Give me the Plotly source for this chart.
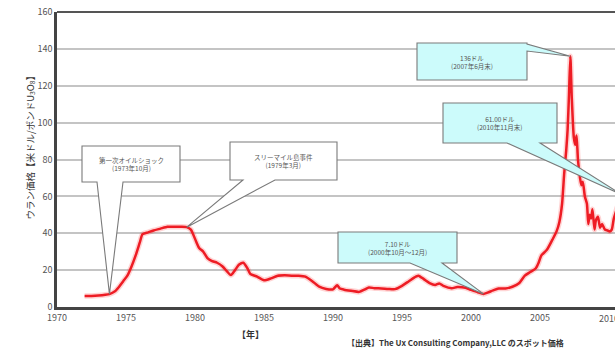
import plotly.graph_objects as go

# Uranium spot price (US$/lb U3O8), decimal year vs. price
years = [
    1972.0, 1972.5, 1973.0, 1973.5, 1973.8, 1974.2, 1974.5, 1974.8, 1975.1, 1975.4,
    1975.7, 1976.0, 1976.2, 1976.6, 1977.0, 1977.5, 1978.0, 1978.5, 1979.0, 1979.4,
    1979.7, 1980.0, 1980.3, 1980.6, 1980.9, 1981.2, 1981.6, 1982.0, 1982.3, 1982.6,
    1982.9, 1983.2, 1983.5, 1983.8, 1984.0, 1984.5, 1985.0, 1985.5, 1986.0, 1986.5,
    1987.0, 1987.5, 1988.0, 1988.5, 1989.0, 1989.5, 1990.0, 1990.3, 1990.5, 1990.8,
    1991.3, 1991.9, 1992.3, 1992.6, 1993.0, 1993.5, 1994.0, 1994.5, 1995.0, 1995.5,
    1996.0, 1996.2, 1996.6, 1997.0, 1997.4, 1997.7, 1998.0, 1998.6, 1999.0, 1999.6,
    2000.0, 2000.5, 2000.9, 2001.2, 2001.6, 2002.0, 2002.5, 2003.0, 2003.5, 2003.9,
    2004.3, 2004.7, 2004.9, 2005.1, 2005.5, 2005.9, 2006.2, 2006.4, 2006.6, 2006.75,
    2006.9, 2007.0, 2007.1, 2007.2, 2007.3, 2007.45, 2007.55, 2007.65, 2007.75, 2007.9,
    2008.0, 2008.1, 2008.25, 2008.4, 2008.5, 2008.6, 2008.7, 2008.8, 2008.95, 2009.05,
    2009.2, 2009.35, 2009.5, 2009.7, 2009.9, 2010.05, 2010.2, 2010.35, 2010.6, 2010.9,
]
prices = [
    6.0, 6.0, 6.2, 6.6, 7.0, 8.5, 11.0, 14.0, 17.0, 22.0,
    28.0, 35.0, 39.5, 40.5, 41.5, 42.5, 43.5, 43.5, 43.5, 43.3,
    42.0, 37.0, 32.0, 30.0, 26.5, 25.0, 24.0, 22.0, 19.5, 17.3,
    20.0, 23.0, 24.0, 21.0, 18.0, 16.5, 14.5, 15.5, 17.0, 17.2,
    17.0, 17.0, 16.5, 14.0, 11.0, 9.8, 9.6, 11.8, 10.0, 9.4,
    8.8, 8.2, 9.5, 10.6, 10.2, 10.1, 9.8, 9.7, 11.5, 14.0,
    16.5, 17.0, 15.0, 13.0, 12.0, 12.8, 11.5, 10.2, 10.8, 10.4,
    9.3, 8.0, 7.1, 7.8, 9.0, 10.0, 10.0, 11.0, 13.0, 17.0,
    19.0, 21.0, 24.0, 28.0, 31.0, 36.5, 41.0, 46.0, 56.0, 72.0,
    85.0, 96.0, 115.0, 136.0, 114.0, 92.0, 88.0, 93.0, 80.0, 70.0,
    66.0, 68.0, 60.0, 56.0, 45.0, 50.0, 48.0, 53.0, 42.0, 47.0,
    49.0, 43.0, 45.0, 42.0, 41.5, 41.0, 42.0, 48.0, 54.0, 61.0,
]

x_ticks = [1970, 1975, 1980, 1985, 1990, 1995, 2000, 2005, 2010]
y_ticks = [0, 20, 40, 60, 80, 100, 120, 140, 160]

# Event callouts: label text and the year of the data point they mark
event_labels = [
    "第一次オイルショック<br>(1973年10月)",
    "スリーマイル島事件<br>(1979年3月)",
    "7.10ドル<br>(2000年10月～12月)",
    "136ドル<br>(2007年6月末)",
    "61.00ドル<br>(2010年11月末)",
]
event_years = [1973.8, 1979.4, 2000.9, 2007.2, 2010.9]

FONT = "Noto Sans CJK JP"
W, H = 615, 357
L, R, T, B = 57, 0, 12, 50
X0, X1 = 1970, 1970 + (W - L - R) / 13.8
Y0, Y1 = 0, 160
plot_w = W - L - R
plot_h = H - T - B


def px_to_data(px, py):
    xd = X0 + (px - L) / plot_w * (X1 - X0)
    yd = Y0 + (H - B - py) / plot_h * (Y1 - Y0)
    return xd, yd


# Callout box geometry in pixels: (left, top, right, bottom), wedge side, wedge base span, fill
callout_style = [
    ((82, 146, 180, 182), "bottom", (97, 123), "#ffffff"),
    ((230, 142, 337, 180), "bottom", (243, 275), "#ffffff"),
    ((338, 232, 457, 263), "bottom", (410, 442), "#ccfbfb"),
    ((417, 43, 527, 80), "right", (44, 51), "#ccfbfb"),
    ((443, 103, 557, 143), "bottom", (507, 540), "#ccfbfb"),
]

fig = go.Figure()

fig.add_trace(go.Scatter(
    x=years, y=prices, mode="lines",
    line=dict(color="rgba(255,60,60,0.22)", width=5.5, shape="spline", smoothing=0.6),
    hoverinfo="skip", showlegend=False,
))
fig.add_trace(go.Scatter(
    x=years, y=prices, mode="lines",
    line=dict(color="#ee1c24", width=2.5, shape="spline", smoothing=0.6),
    showlegend=False,
))

shapes = []
annotations = []
for label, ev_year, (box, side, span, fill) in zip(event_labels, event_years, callout_style):
    tip = (ev_year, prices[years.index(ev_year)])
    l, t, r, b = box
    (xl, yt), (xr, yb) = px_to_data(l, t), px_to_data(r, b)
    if side == "bottom":
        (wa, _), (wb, _) = px_to_data(span[0], b), px_to_data(span[1], b)
        pts = [(xl, yt), (xr, yt), (xr, yb), (wb, yb), tip, (wa, yb), (xl, yb)]
    else:
        (_, wa), (_, wb) = px_to_data(r, span[0]), px_to_data(r, span[1])
        pts = [(xl, yt), (xr, yt), (xr, wa), tip, (xr, wb), (xr, yb), (xl, yb)]
    path = "M " + " L ".join(f"{x:.4f},{y:.4f}" for x, y in pts) + " Z"
    shapes.append(dict(type="path", path=path, xref="x", yref="y", layer="above",
                       fillcolor=fill, line=dict(color="#7a7a7a", width=1.1)))
    cx, cy = px_to_data((l + r) / 2, (t + b) / 2)
    annotations.append(dict(x=cx, y=cy, xref="x", yref="y", text=label, showarrow=False,
                            font=dict(family=FONT, size=6.5, color="#555555"),
                            align="center"))

# Frame: top border (left and bottom come from the axis lines)
shapes.append(dict(type="line", xref="paper", yref="paper", x0=0, x1=1.02, y0=1, y1=1,
                   line=dict(color="#555555", width=2), layer="above"))

# Last year label sits at the right edge and runs past it
annotations.append(dict(x=x_ticks[-1], y=0, xref="x", yref="y", yshift=-3, yanchor="top",
                        text=str(x_ticks[-1]), showarrow=False,
                        font=dict(family=FONT, size=9, color="#555555")))

annotations += [
    dict(xref="paper", yref="paper", x=(20 - L) / plot_w, y=(H - B - 145) / plot_h,
         text="ウラン価格【米ドル/ポンドU<sub>3</sub>O<sub>8</sub>】", textangle=-90,
         showarrow=False, font=dict(family=FONT, size=9.5, color="#333333")),
    dict(xref="paper", yref="paper", x=(250 - L) / plot_w, y=(H - B - 343) / plot_h,
         text="<b>【年】</b>", showarrow=False,
         font=dict(family=FONT, size=9, color="#333333")),
    dict(xref="paper", yref="paper", x=(345 - L) / plot_w, y=(H - B - 350) / plot_h,
         xanchor="left", text="<b>【出典】The Ux Consulting Company,LLC のスポット価格</b>",
         showarrow=False, font=dict(family=FONT, size=8, color="#333333")),
]

fig.update_layout(
    width=W, height=H,
    margin=dict(l=L, r=R, t=T, b=B, autoexpand=False),
    paper_bgcolor="white", plot_bgcolor="white",
    font=dict(family=FONT, color="#555555"),
    shapes=shapes, annotations=annotations,
    xaxis=dict(range=[X0, X1], tickvals=x_ticks[:-1], ticktext=[str(v) for v in x_ticks[:-1]],
               showgrid=False, zeroline=False, showline=True, linecolor="#444444",
               linewidth=2.5, ticks="", tickfont=dict(size=9, color="#555555"),
               fixedrange=True),
    yaxis=dict(range=[Y0, Y1], tickvals=y_ticks, showgrid=True, gridcolor="#c4c4c4",
               gridwidth=1.5, zeroline=False, showline=True, linecolor="#444444",
               linewidth=2.5, ticks="", tickfont=dict(size=9, color="#555555"),
               fixedrange=True),
)

fig.write_html("out.html", config={"displayModeBar": False})
